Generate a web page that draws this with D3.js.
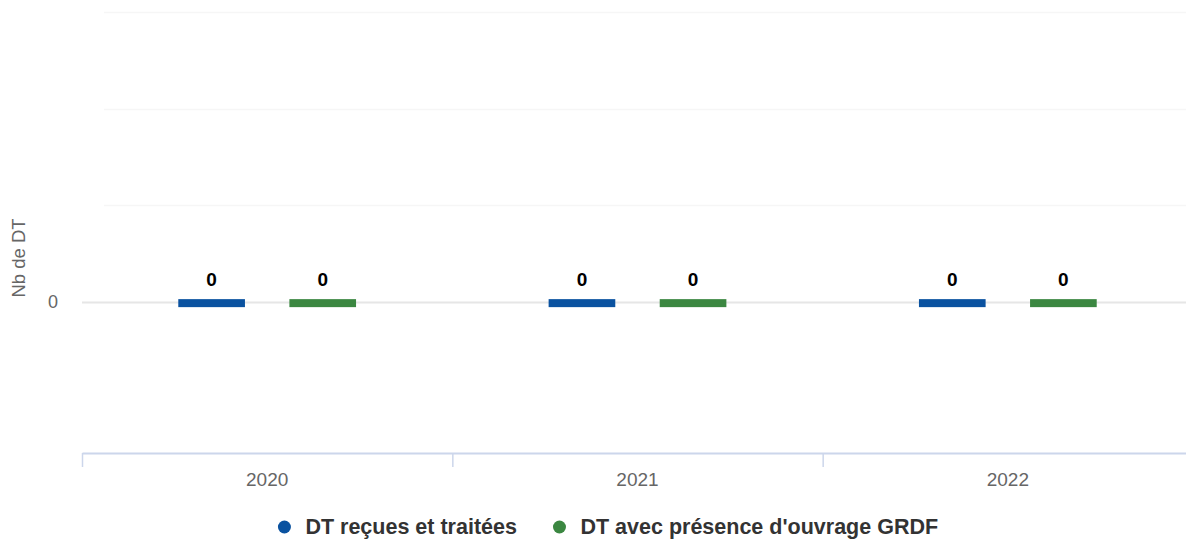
<!DOCTYPE html>
<html>
<head>
<meta charset="utf-8">
<script src="https://cdn.jsdelivr.net/npm/d3@7"></script>
<style>
  html, body { margin: 0; padding: 0; background: #fff; overflow: hidden; }
  svg { display: block; font-family: "Liberation Sans", Arial, Helvetica, sans-serif; }
</style>
</head>
<body>
<div id="chart"></div>
<script>
// data
var categories = ['2020', '2021', '2022'];
var seriesNames = ['DT reçues et traitées', "DT avec présence d'ouvrage GRDF"];
var seriesColors = ['#0a52a0', '#3b8741'];
var recues = [0, 0, 0];
var presence = [0, 0, 0];
var yTicks = [0, 1, 2, 3];
var yLabels = ['0'];

var W = 1186, H = 540;
// full chart was wider than the window, it is clipped on the right
var chartW = 1216;
var margin = { top: 12, left: 82, right: 23, bottom: 87 };
var plotRight = chartW - margin.right;
var axisY = H - margin.bottom;

var svg = d3.select('#chart').append('svg')
  .attr('width', W)
  .attr('height', H);

var x0 = d3.scaleBand()
  .domain(categories)
  .range([margin.left, plotRight]);

var groupPadding = 0.2, pointPadding = 0.2;
var x1 = d3.scaleBand()
  .domain(seriesNames)
  .range([x0.bandwidth() * groupPadding, x0.bandwidth() * (1 - groupPadding)]);

var y = d3.scaleLinear()
  .domain([-1.56, 3])
  .range([axisY, margin.top]);

// grid lines
svg.append('g')
  .selectAll('line')
  .data(yTicks)
  .enter()
  .append('line')
  .attr('x1', function(d) { return d === 0 ? margin.left : 104; })
  .attr('x2', plotRight)
  .attr('y1', function(d) { return Math.round(y(d)) + 0.5; })
  .attr('y2', function(d) { return Math.round(y(d)) + 0.5; })
  .attr('stroke', function(d) { return d === 0 ? '#e6e6e6' : '#f6f6f6'; })
  .attr('stroke-width', function(d) { return d === 0 ? 2 : 1.5; });

// y axis labels
svg.append('g')
  .selectAll('text')
  .data(yLabels)
  .enter()
  .append('text')
  .attr('x', 58)
  .attr('y', function(d) { return y(+d) + 6; })
  .attr('text-anchor', 'end')
  .attr('fill', '#666')
  .attr('font-size', '18px')
  .text(function(d) { return d; });

svg.append('text')
  .attr('transform', 'translate(25,' + 258 + ') rotate(-90)')
  .attr('text-anchor', 'middle')
  .attr('fill', '#666')
  .attr('font-size', '18.5px')
  .text('Nb de DT');

// x axis
var xAxis = d3.axisBottom(x0)
  .tickSizeOuter(0)
  .tickSize(0)
  .tickPadding(20);

var gx = svg.append('g')
  .attr('transform', 'translate(0,' + axisY + ')')
  .call(xAxis);
gx.select('.domain').attr('stroke', '#ccd6eb').attr('stroke-width', 2);
gx.selectAll('text')
  .attr('fill', '#666')
  .attr('font-size', '19px')
  .attr('font-family', '"Liberation Sans", Arial, sans-serif');

// boundary ticks between categories
svg.append('g')
  .selectAll('line')
  .data(categories)
  .enter()
  .append('line')
  .attr('x1', function(d) { return x0(d) + 0.5; })
  .attr('x2', function(d) { return x0(d) + 0.5; })
  .attr('y1', axisY)
  .attr('y2', axisY + 14)
  .attr('stroke', '#ccd6eb')
  .attr('stroke-width', 1.5);

// bars
var minPointLength = 8;
var rows = categories.map(function(c, i) {
  return { cat: c, values: [recues[i], presence[i]] };
});

var groups = svg.append('g')
  .selectAll('g')
  .data(rows)
  .enter()
  .append('g')
  .attr('transform', function(d) { return 'translate(' + x0(d.cat) + ',0)'; });

var bw = x1.bandwidth() * (1 - 2 * pointPadding);

groups.selectAll('rect')
  .data(function(d) {
    return d.values.map(function(v, j) { return { name: seriesNames[j], v: v, j: j }; });
  })
  .enter()
  .append('rect')
  .attr('x', function(d) { return x1(d.name) + x1.bandwidth() * pointPadding; })
  .attr('width', bw)
  .attr('y', function(d) {
    var h = Math.max(Math.abs(y(d.v) - y(0)), minPointLength);
    return Math.min(y(d.v), y(0)) + 1 - h / 2;
  })
  .attr('height', function(d) {
    return Math.max(Math.abs(y(d.v) - y(0)), minPointLength);
  })
  .attr('fill', function(d) { return seriesColors[d.j]; });

groups.selectAll('text')
  .data(function(d) {
    return d.values.map(function(v, j) { return { name: seriesNames[j], v: v, j: j }; });
  })
  .enter()
  .append('text')
  .attr('x', function(d) { return x1(d.name) + x1.bandwidth() / 2; })
  .attr('y', function(d) { return y(d.v) - 16; })
  .attr('text-anchor', 'middle')
  .attr('font-weight', 'bold')
  .attr('font-size', '19px')
  .attr('fill', '#000')
  .text(function(d) { return d.v; });

// legend
var legend = svg.append('g').attr('transform', 'translate(0,' + 527 + ')');
var items = legend.selectAll('g')
  .data(seriesNames)
  .enter()
  .append('g');
items.append('circle')
  .attr('r', 6.5)
  .attr('cx', 0)
  .attr('cy', 0)
  .attr('fill', function(d, i) { return seriesColors[i]; });
items.append('text')
  .attr('x', 21)
  .attr('y', 7)
  .attr('font-weight', 'bold')
  .attr('font-size', '21.5px')
  .attr('fill', '#333')
  .text(function(d) { return d; });

var widths = [];
items.each(function() { widths.push(this.getBBox().width); });
var gap = 36;
var total = d3.sum(widths) + gap * (widths.length - 1);
var start = chartW / 2 - total / 2 + 6.5;
var acc = start;
items.attr('transform', function(d, i) {
  var t = 'translate(' + acc + ',0)';
  acc += widths[i] + gap;
  return t;
});
</script>
</body>
</html>
